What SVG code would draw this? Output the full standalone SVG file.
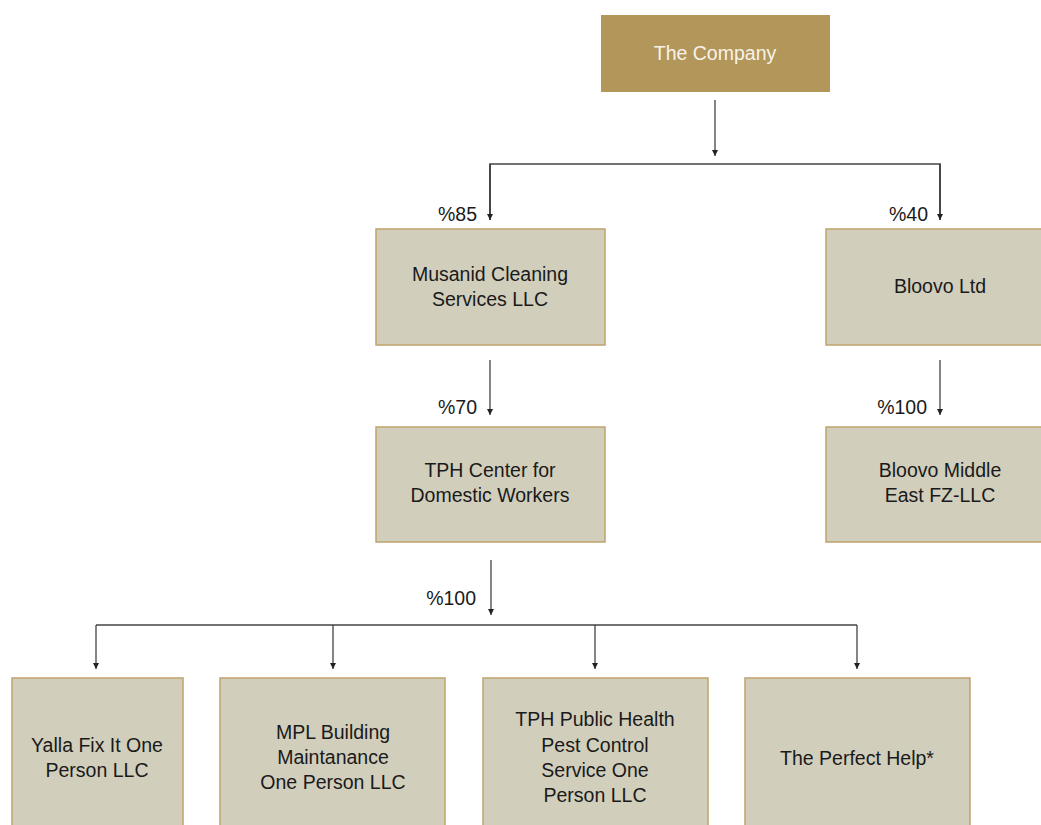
<svg xmlns="http://www.w3.org/2000/svg" width="1041" height="825" viewBox="0 0 1041 825">
<style>
.box{fill:#D1CEBC;stroke:#BFA26E;stroke-width:1.5}
.top{fill:#B39659}
.t{font-family:"Liberation Sans",Arial,sans-serif;font-size:19.5px;fill:#1a1a1a;text-anchor:middle}
.tw{font-family:"Liberation Sans",Arial,sans-serif;font-size:19.5px;fill:#F7F3EA;text-anchor:middle}
.p{font-family:"Liberation Sans",Arial,sans-serif;font-size:19.5px;fill:#1a1a1a;text-anchor:end}
.c{fill:none;stroke:#333;stroke-width:1.2}
.h{fill:none;stroke:#444;stroke-width:1.6}
</style>
<defs>
<marker id="ah" viewBox="0 0 10 10" refX="10" refY="5" markerWidth="6" markerHeight="6" markerUnits="userSpaceOnUse" orient="auto">
<path d="M0,0 L10,5 L0,10 z" fill="#222"/>
</marker>
</defs>
<g id="connectors">
<line class="c" x1="715" y1="100" x2="715" y2="156" marker-end="url(#ah)"/>
<polyline class="h" points="490,220 490,164 940,164 940,220"/>
<line class="c" x1="490" y1="164" x2="490" y2="220" marker-end="url(#ah)"/>
<line class="c" x1="940" y1="164" x2="940" y2="220" marker-end="url(#ah)"/>
<line class="c" x1="490" y1="360" x2="490" y2="415" marker-end="url(#ah)"/>
<line class="c" x1="940" y1="360" x2="940" y2="415" marker-end="url(#ah)"/>
<line class="c" x1="491" y1="560" x2="491" y2="615" marker-end="url(#ah)"/>
<polyline class="h" points="96,625 857,625"/>
<line class="c" x1="96" y1="625" x2="96" y2="669" marker-end="url(#ah)"/>
<line class="c" x1="333" y1="625" x2="333" y2="669" marker-end="url(#ah)"/>
<line class="c" x1="595" y1="625" x2="595" y2="669" marker-end="url(#ah)"/>
<line class="c" x1="857" y1="625" x2="857" y2="669" marker-end="url(#ah)"/>
<text class="p" x="477" y="221">%85</text>
<text class="p" x="928" y="221">%40</text>
<text class="p" x="477" y="414">%70</text>
<text class="p" x="927" y="414">%100</text>
<text class="p" x="476" y="605">%100</text>
</g>
<g id="company">
<rect class="top" x="601" y="15" width="229" height="77"/>
<text class="tw" x="715" y="60">The Company</text>
</g>
<g id="musanid">
<rect class="box" x="376" y="229" width="229" height="116"/>
<text class="t" x="490" y="281">Musanid Cleaning</text>
<text class="t" x="490" y="306">Services LLC</text>
</g>
<g id="bloovo">
<rect class="box" x="826" y="229" width="230" height="116"/>
<text class="t" x="940" y="293">Bloovo Ltd</text>
</g>
<g id="tph-center">
<rect class="box" x="376" y="427" width="229" height="115"/>
<text class="t" x="490" y="477">TPH Center for</text>
<text class="t" x="490" y="502">Domestic Workers</text>
</g>
<g id="bloovo-me">
<rect class="box" x="826" y="427" width="230" height="115"/>
<text class="t" x="940" y="477">Bloovo Middle</text>
<text class="t" x="940" y="502">East FZ-LLC</text>
</g>
<g id="yalla">
<rect class="box" x="12" y="678" width="171" height="170"/>
<text class="t" x="97" y="752">Yalla Fix It One</text>
<text class="t" x="97" y="777">Person LLC</text>
</g>
<g id="mpl">
<rect class="box" x="220" y="678" width="225" height="170"/>
<text class="t" x="333" y="739">MPL Building</text>
<text class="t" x="333" y="764">Maintanance</text>
<text class="t" x="333" y="789">One Person LLC</text>
</g>
<g id="tph-public">
<rect class="box" x="483" y="678" width="225" height="170"/>
<text class="t" x="595" y="726">TPH Public Health</text>
<text class="t" x="595" y="752">Pest Control</text>
<text class="t" x="595" y="777">Service One</text>
<text class="t" x="595" y="802">Person LLC</text>
</g>
<g id="perfect-help">
<rect class="box" x="745" y="678" width="225" height="170"/>
<text class="t" x="857" y="765">The Perfect Help*</text>
</g>
</svg>
